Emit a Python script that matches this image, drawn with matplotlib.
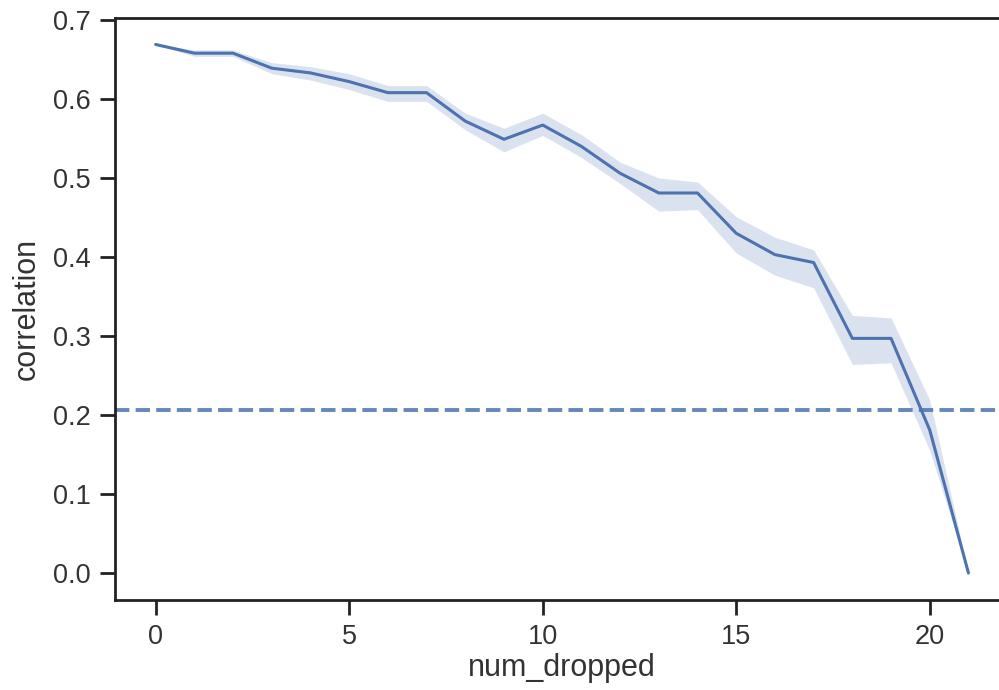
import numpy as np
import matplotlib
matplotlib.use("Agg")
import matplotlib.pyplot as plt
import seaborn as sns

## DATA

num_dropped = list(range(22))
corr_mean = [0.669, 0.658, 0.658, 0.639, 0.633, 0.622, 0.608, 0.608, 0.572, 0.549, 0.567,
             0.540, 0.506, 0.481, 0.481, 0.430, 0.403, 0.393, 0.297, 0.297, 0.181, 0.0]
corr_low = [0.669, 0.654, 0.654, 0.632, 0.624, 0.612, 0.597, 0.597, 0.561, 0.533, 0.554,
            0.526, 0.493, 0.458, 0.460, 0.405, 0.377, 0.361, 0.264, 0.266, 0.155, 0.0]
corr_high = [0.670, 0.662, 0.662, 0.646, 0.641, 0.632, 0.617, 0.617, 0.582, 0.563, 0.582,
             0.555, 0.520, 0.500, 0.495, 0.451, 0.425, 0.409, 0.326, 0.323, 0.219, 0.0]
baseline = 0.206

## STYLE

sns.set_style("ticks")
plt.rcParams["font.family"] = ["Liberation Sans", "DejaVu Sans"]

blue = "#4c72b0"
text_col = "#333333"

fig = plt.figure(figsize=(9.99, 6.9), dpi=100)
ax = fig.add_axes([0.1151, 0.1304, 0.895, 0.8435])

ax.fill_between(num_dropped, corr_low, corr_high, color=blue, alpha=0.2, linewidth=0)
ax.plot(num_dropped, corr_mean, color=blue, linewidth=2.2)
ax.axhline(baseline, color=blue, alpha=0.85, linestyle="--", linewidth=2.8)

ax.set_xlim(-1.05, 22.05)
ax.set_ylim(-0.0342, 0.7025)
ax.set_xticks([0, 5, 10, 15, 20])
ax.set_yticks(np.arange(0, 0.71, 0.1))
ax.set_yticklabels([f"{v:.1f}" for v in np.arange(0, 0.71, 0.1)])

ax.set_xlabel("num_dropped", fontsize=22, color=text_col, labelpad=2)
ax.set_ylabel("correlation", fontsize=22, color=text_col, labelpad=8)
ax.tick_params(axis="both", labelsize=19.5, length=10.5, width=2, pad=7, colors="#222222", labelcolor=text_col)

for s in ax.spines.values():
    s.set_linewidth(2)
    s.set_color("#222222")

plt.savefig("out.png", dpi=100)
